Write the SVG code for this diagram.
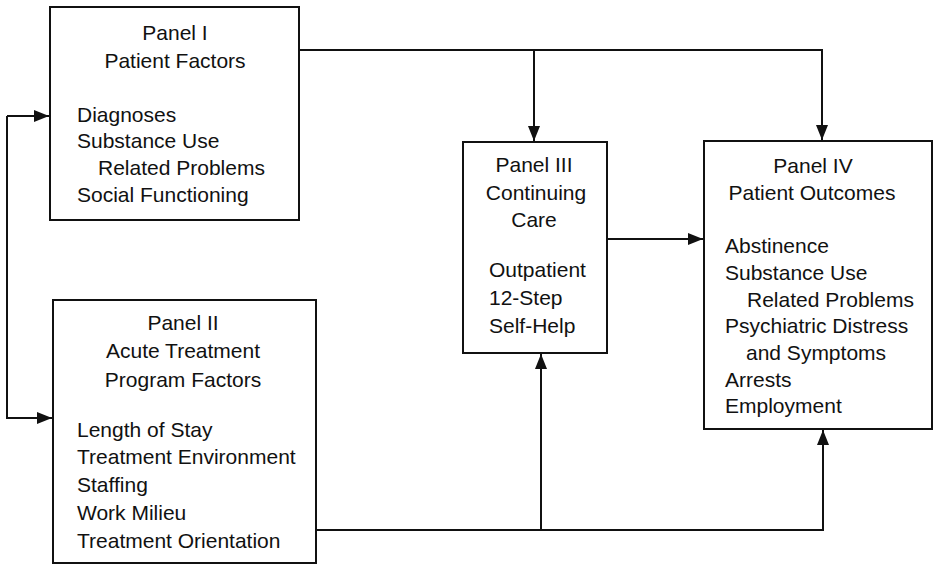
<svg xmlns="http://www.w3.org/2000/svg" width="935" height="566" viewBox="0 0 935 566">
<style>
.box{fill:#fff;stroke:#111;stroke-width:2}
.ln{fill:none;stroke:#111;stroke-width:2}
text{font-family:"Liberation Sans",Arial,sans-serif;font-size:21px;fill:#111}
.c{text-anchor:middle}
</style>
<defs>
<marker id="ah" markerUnits="userSpaceOnUse" markerWidth="16" markerHeight="14" viewBox="0 0 16 14" refX="15" refY="7" orient="auto">
<path d="M0,1 L15,7 L0,13 Z" fill="#111"/>
</marker>
</defs>
<g id="connectors">
<path class="ln" d="M299,50 H822 V140" marker-end="url(#ah)"/>
<path class="ln" d="M534,50 V141" marker-end="url(#ah)"/>
<path class="ln" d="M607,239 H703" marker-end="url(#ah)"/>
<path class="ln" d="M7,116 V418 H52" marker-end="url(#ah)"/>
<path class="ln" d="M7,116 H49" marker-end="url(#ah)"/>
<path class="ln" d="M316,530 H823 V430" marker-end="url(#ah)"/>
<path class="ln" d="M541,530 V354" marker-end="url(#ah)"/>
</g>
<g id="panel1">
<rect class="box" x="50" y="7" width="249" height="213"/>
<text class="c" x="175" y="40">Panel I</text>
<text class="c" x="175" y="68">Patient Factors</text>
<text x="77" y="122">Diagnoses</text>
<text x="77" y="148">Substance Use</text>
<text x="98" y="175">Related Problems</text>
<text x="77" y="202">Social Functioning</text>
</g>
<g id="panel2">
<rect class="box" x="53" y="300" width="263" height="263"/>
<text class="c" x="183" y="330">Panel II</text>
<text class="c" x="183" y="358">Acute Treatment</text>
<text class="c" x="183" y="387">Program Factors</text>
<text x="77" y="437">Length of Stay</text>
<text x="77" y="464">Treatment Environment</text>
<text x="77" y="492">Staffing</text>
<text x="77" y="520">Work Milieu</text>
<text x="77" y="548">Treatment Orientation</text>
</g>
<g id="panel3">
<rect class="box" x="463" y="142" width="144" height="211"/>
<text class="c" x="534" y="172">Panel III</text>
<text class="c" x="536" y="200">Continuing</text>
<text class="c" x="534" y="227">Care</text>
<text x="489" y="277">Outpatient</text>
<text x="489" y="305">12-Step</text>
<text x="489" y="333">Self-Help</text>
</g>
<g id="panel4">
<rect class="box" x="704" y="141" width="228" height="288"/>
<text class="c" x="813" y="173">Panel IV</text>
<text class="c" x="812" y="200">Patient Outcomes</text>
<text x="725" y="253">Abstinence</text>
<text x="725" y="280">Substance Use</text>
<text x="747" y="307">Related Problems</text>
<text x="725" y="333">Psychiatric Distress</text>
<text x="746" y="360">and Symptoms</text>
<text x="725" y="387">Arrests</text>
<text x="725" y="413">Employment</text>
</g>
</svg>
